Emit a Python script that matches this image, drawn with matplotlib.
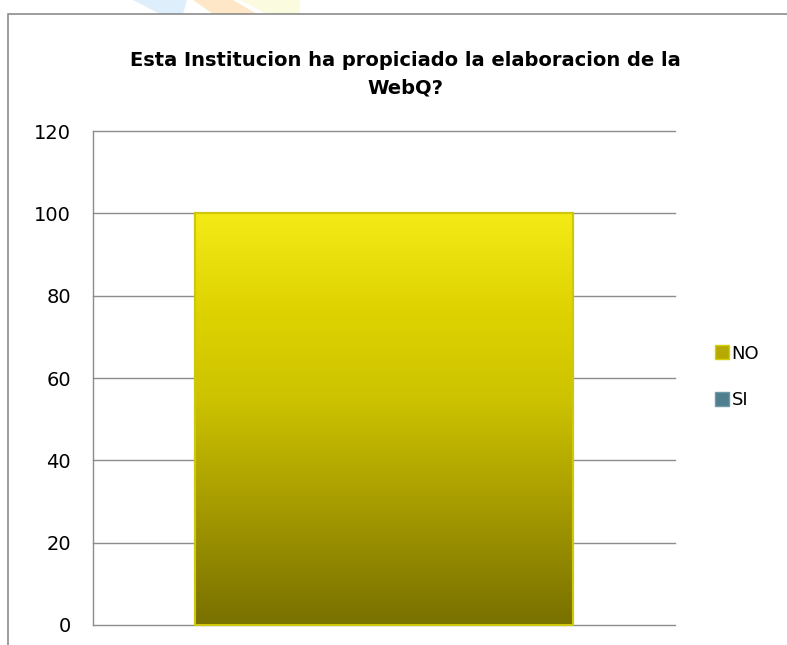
import numpy as np
import matplotlib
matplotlib.use("Agg")
import matplotlib.pyplot as plt
from matplotlib.patches import Rectangle, Polygon
from matplotlib.colors import LinearSegmentedColormap
from matplotlib.legend_handler import HandlerPatch

title = "Esta Institucion ha propiciado la elaboracion de la\nWebQ?"
categories = [""]
series_names = ["NO", "SI"]
no_values = [100]
si_values = [0]
yticks = [0, 20, 40, 60, 80, 100, 120]

plt.rcParams['font.family'] = ['DejaVu Sans']

fig = plt.figure(figsize=(7.87, 6.45), dpi=100)
fig.patch.set_facecolor("white")

# faint decorative stripes above the chart frame
def fpoly(pts, color, alpha):
    p = Polygon([(x / 787, 1 - y / 645) for x, y in pts], closed=True,
                transform=fig.transFigure, facecolor=color, edgecolor="none",
                alpha=alpha, zorder=-2)
    fig.patches.append(p)

fpoly([(133, 0), (187, 0), (183, 14), (160, 14)], "#d6eaf9", 0.8)
fpoly([(193, 0), (233, 0), (257, 14), (213, 14)], "#fde2ba", 0.8)
fpoly([(240, 0), (300, 0), (300, 14), (267, 14)], "#fafad8", 0.8)

# chart frame
frame = Rectangle((8 / 787, -0.1), 1.2, 1 - 14 / 645 + 0.1,
                  transform=fig.transFigure, facecolor="white",
                  edgecolor="#8c8c8c", linewidth=1.2, zorder=-1)
fig.patches.append(frame)

ax = fig.add_axes([93 / 787, 20 / 645, 582 / 787, 494 / 645])
ax.set_facecolor("none")
ax.set_zorder(2)

x = np.arange(len(categories))
width = 0.648
bars_no = ax.bar(x, no_values, width=width, color="#c8be08",
                 edgecolor="#cfc80a", linewidth=1.5, zorder=3)
bars_si = ax.bar(x, si_values, width=width, bottom=no_values,
                 color="#4f7e8e", edgecolor="#4f7e8e", linewidth=0, zorder=3)

# vertical gradient fill clipped to the NO bar
cmap_no = LinearSegmentedColormap.from_list(
    "no", [(0.0, "#787000"), (0.3, "#a89d00"), (0.55, "#cdc300"),
           (0.75, "#ddd200"), (1.0, "#f3ea16")])
for b in bars_no:
    bx, by = b.get_x(), b.get_y()
    bw, bh = b.get_width(), b.get_height()
    grad = np.linspace(0, 1, 256).reshape(-1, 1)
    im = ax.imshow(grad, cmap=cmap_no, origin="lower", aspect="auto",
                   extent=[bx, bx + bw, by, by + bh], zorder=3.5)
    im.set_clip_path(b)
    edge = Rectangle((bx, by), bw, bh, facecolor="none",
                     edgecolor="#cfc80a", linewidth=1.5, zorder=4,
                     clip_on=False)
    ax.add_patch(edge)

ax.set_xlim(-0.5, 0.5)
ax.set_ylim(0, 120)
ax.set_yticks(yticks)
ax.set_xticks([])
ax.yaxis.grid(True, color="#8c8c8c", linewidth=1.0, zorder=0)
for gl in ax.yaxis.get_gridlines():
    gl.set_clip_on(False)
ax.set_axisbelow(True)
for s in ["top", "right", "bottom"]:
    ax.spines[s].set_visible(False)
ax.spines["left"].set_color("#8c8c8c")
ax.spines["left"].set_linewidth(1.0)
ax.tick_params(axis="y", length=0, labelsize=14, pad=16, labelcolor="black")

fig.text(0.515, 1 - 74 / 645, title, ha="center", va="center",
         fontsize=14, fontweight="bold", linespacing=1.6)

# legend
class SquareHandler(HandlerPatch):
    def __init__(self, edge):
        super().__init__()
        self.edge = edge

    def create_artists(self, legend, orig_handle, xdescent, ydescent,
                       width, height, fontsize, trans):
        s = height
        r = Rectangle((width - s - xdescent, -ydescent), s, s,
                      facecolor=orig_handle.get_facecolor(),
                      edgecolor=self.edge, linewidth=1.0, transform=trans)
        return [r]

h_no = Rectangle((0, 0), 1, 1, facecolor="#b5aa03")
h_si = Rectangle((0, 0), 1, 1, facecolor="#4f7e8e")
leg = fig.legend([h_no, h_si], series_names, loc="center left",
                 bbox_to_anchor=(698 / 787, 1 - 377 / 645), frameon=False,
                 fontsize=13, handlelength=0.8, handleheight=0.8,
                 handletextpad=0.15, labelspacing=1.6,
                 handler_map={h_no: SquareHandler("#d8d000"),
                              h_si: SquareHandler("#6e9aa8")})

fig.savefig("out.png", dpi=100, facecolor="white")
